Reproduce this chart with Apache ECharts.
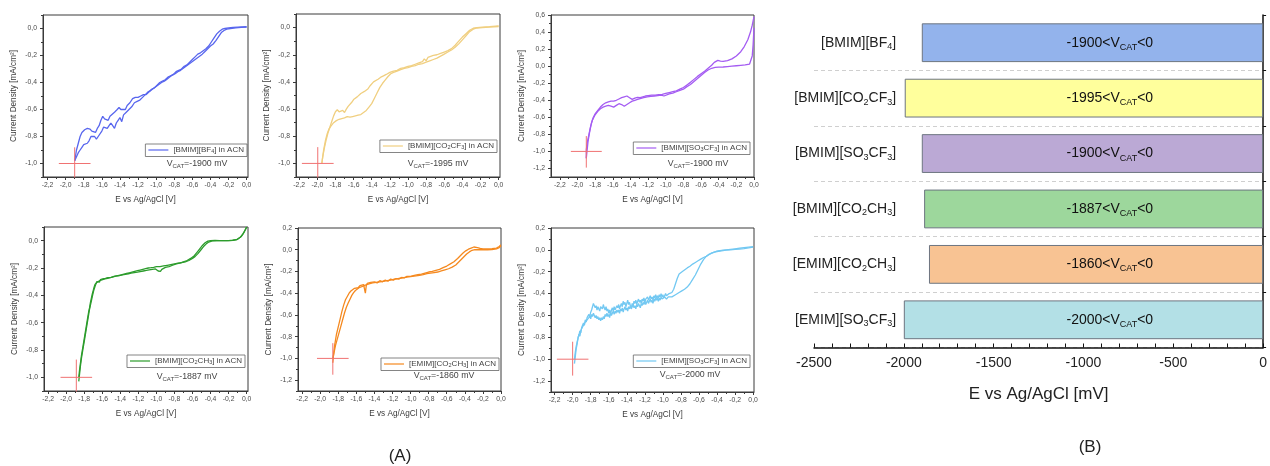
<!DOCTYPE html>
<html><head><meta charset="utf-8">
<script src="https://cdn.jsdelivr.net/npm/echarts@6/dist/echarts.min.js"></script>
<style>html,body{margin:0;padding:0;background:#fff}#c{width:1270px;height:466px}</style>
</head><body><div id="c"></div>
<script>
// ---------- DATA ----------
const panelNames = ['[BMIM][BF4] in ACN','[BMIM][CO2CF3] in ACN','[BMIM][SO3CF3] in ACN','[BMIM][CO2CH3] in ACN','[EMIM][CO2CH3] in ACN','[EMIM][SO3CF3] in ACN'];
const vcat = [-1900,-1995,-1900,-1887,-1860,-2000];
const barCategories = ['[BMIM][BF4]','[BMIM][CO2CF3]','[BMIM][SO3CF3]','[BMIM][CO2CH3]','[EMIM][CO2CH3]','[EMIM][SO3CF3]'];
const xTickLabels = [-2.2,-2.0,-1.8,-1.6,-1.4,-1.2,-1.0,-0.8,-0.6,-0.4,-0.2,0.0];

const bf4A = [[-1.90,-0.98],[-1.88,-0.90],[-1.86,-0.85],[-1.84,-0.80],[-1.82,-0.77],[-1.79,-0.75],[-1.76,-0.74],[-1.73,-0.745],[-1.71,-0.76],[-1.69,-0.75],[-1.67,-0.77],[-1.65,-0.74],[-1.63,-0.72],[-1.61,-0.68],[-1.59,-0.65],[-1.57,-0.67],[-1.55,-0.66],[-1.53,-0.68],[-1.51,-0.65],[-1.49,-0.64],[-1.46,-0.62],[-1.43,-0.60],[-1.41,-0.585],[-1.39,-0.60],[-1.37,-0.59],[-1.34,-0.60],[-1.32,-0.57],[-1.29,-0.55],[-1.26,-0.52],[-1.23,-0.51],[-1.20,-0.51],[-1.17,-0.50],[-1.14,-0.49],[-1.11,-0.49],[-1.08,-0.47],[-1.05,-0.45],[-1.02,-0.44],[-0.99,-0.42],[-0.96,-0.40],[-0.93,-0.39],[-0.90,-0.38],[-0.87,-0.36],[-0.84,-0.35],[-0.81,-0.34],[-0.78,-0.32],[-0.75,-0.31],[-0.72,-0.30],[-0.69,-0.28],[-0.66,-0.27],[-0.63,-0.25],[-0.60,-0.23],[-0.57,-0.21],[-0.54,-0.19],[-0.51,-0.18],[-0.48,-0.165],[-0.45,-0.15],[-0.42,-0.13],[-0.39,-0.10],[-0.36,-0.07],[-0.33,-0.04],[-0.30,-0.02],[-0.27,-0.005],[-0.24,0.0],[-0.20,0.005],[-0.15,0.008],[-0.10,0.01],[-0.05,0.012],[0.0,0.013]];
const bf4B = [[-1.90,-0.98],[-1.88,-0.95],[-1.86,-0.92],[-1.84,-0.90],[-1.82,-0.88],[-1.80,-0.86],[-1.78,-0.87],[-1.76,-0.85],[-1.74,-0.83],[-1.72,-0.80],[-1.70,-0.79],[-1.68,-0.80],[-1.66,-0.82],[-1.64,-0.80],[-1.62,-0.79],[-1.60,-0.76],[-1.58,-0.73],[-1.56,-0.72],[-1.54,-0.74],[-1.52,-0.72],[-1.50,-0.70],[-1.48,-0.72],[-1.46,-0.74],[-1.44,-0.70],[-1.42,-0.68],[-1.40,-0.66],[-1.38,-0.69],[-1.36,-0.64],[-1.33,-0.62],[-1.30,-0.60],[-1.27,-0.58],[-1.24,-0.55],[-1.21,-0.54],[-1.18,-0.53],[-1.15,-0.51],[-1.12,-0.49],[-1.09,-0.47],[-1.06,-0.46],[-1.03,-0.445],[-1.00,-0.43],[-0.97,-0.415],[-0.94,-0.40],[-0.91,-0.39],[-0.88,-0.375],[-0.85,-0.36],[-0.82,-0.345],[-0.79,-0.335],[-0.76,-0.32],[-0.73,-0.31],[-0.70,-0.295],[-0.67,-0.28],[-0.64,-0.265],[-0.61,-0.25],[-0.58,-0.235],[-0.55,-0.22],[-0.52,-0.205],[-0.49,-0.19],[-0.46,-0.17],[-0.43,-0.15],[-0.40,-0.13],[-0.37,-0.115],[-0.34,-0.09],[-0.31,-0.06],[-0.28,-0.03],[-0.25,-0.015],[-0.22,-0.005],[-0.18,0.0],[-0.12,0.005],[-0.06,0.008],[0.0,0.01]];

const cf3A = [[-1.95,-1.0],[-1.94,-0.95],[-1.92,-0.88],[-1.90,-0.82],[-1.88,-0.77],[-1.86,-0.73],[-1.84,-0.69],[-1.82,-0.65],[-1.80,-0.62],[-1.78,-0.605],[-1.76,-0.62],[-1.74,-0.63],[-1.72,-0.61],[-1.70,-0.625],[-1.68,-0.60],[-1.66,-0.58],[-1.64,-0.57],[-1.62,-0.55],[-1.60,-0.53],[-1.58,-0.52],[-1.56,-0.51],[-1.54,-0.50],[-1.52,-0.485],[-1.50,-0.48],[-1.48,-0.47],[-1.46,-0.465],[-1.44,-0.45],[-1.42,-0.43],[-1.40,-0.42],[-1.38,-0.40],[-1.36,-0.39],[-1.33,-0.38],[-1.30,-0.365],[-1.27,-0.355],[-1.24,-0.345],[-1.20,-0.33],[-1.16,-0.32],[-1.12,-0.315],[-1.08,-0.30],[-1.04,-0.295],[-1.00,-0.285],[-0.96,-0.28],[-0.92,-0.27],[-0.88,-0.26],[-0.84,-0.25],[-0.82,-0.23],[-0.80,-0.245],[-0.78,-0.22],[-0.76,-0.22],[-0.72,-0.205],[-0.68,-0.20],[-0.64,-0.19],[-0.60,-0.18],[-0.56,-0.17],[-0.52,-0.155],[-0.48,-0.13],[-0.44,-0.10],[-0.40,-0.07],[-0.36,-0.045],[-0.32,-0.02],[-0.28,-0.005],[-0.24,0.0],[-0.18,0.004],[-0.10,0.007],[0.0,0.012]];
const cf3B = [[-1.95,-1.0],[-1.93,-0.90],[-1.91,-0.83],[-1.89,-0.78],[-1.87,-0.745],[-1.85,-0.725],[-1.82,-0.70],[-1.79,-0.685],[-1.76,-0.675],[-1.73,-0.67],[-1.70,-0.665],[-1.67,-0.655],[-1.64,-0.66],[-1.61,-0.655],[-1.58,-0.65],[-1.55,-0.645],[-1.52,-0.64],[-1.49,-0.625],[-1.46,-0.61],[-1.43,-0.585],[-1.40,-0.56],[-1.37,-0.52],[-1.34,-0.48],[-1.31,-0.44],[-1.28,-0.41],[-1.25,-0.385],[-1.22,-0.36],[-1.19,-0.34],[-1.16,-0.33],[-1.12,-0.32],[-1.08,-0.31],[-1.04,-0.30],[-1.00,-0.295],[-0.96,-0.285],[-0.92,-0.28],[-0.88,-0.27],[-0.84,-0.265],[-0.80,-0.255],[-0.76,-0.245],[-0.72,-0.235],[-0.68,-0.225],[-0.64,-0.21],[-0.60,-0.195],[-0.56,-0.18],[-0.52,-0.165],[-0.48,-0.145],[-0.44,-0.12],[-0.40,-0.09],[-0.36,-0.06],[-0.32,-0.03],[-0.28,-0.012],[-0.24,-0.003],[-0.18,0.0],[-0.10,0.004],[0.0,0.008]];

const so3A = [[-1.90,-1.08],[-1.89,-0.98],[-1.88,-0.88],[-1.86,-0.76],[-1.84,-0.66],[-1.82,-0.60],[-1.80,-0.56],[-1.77,-0.52],[-1.74,-0.48],[-1.71,-0.45],[-1.68,-0.43],[-1.65,-0.42],[-1.62,-0.41],[-1.59,-0.41],[-1.56,-0.40],[-1.53,-0.385],[-1.50,-0.37],[-1.47,-0.36],[-1.44,-0.35],[-1.41,-0.37],[-1.38,-0.39],[-1.35,-0.375],[-1.32,-0.365],[-1.29,-0.37],[-1.26,-0.36],[-1.23,-0.35],[-1.20,-0.345],[-1.16,-0.34],[-1.12,-0.34],[-1.08,-0.335],[-1.04,-0.33],[-1.00,-0.32],[-0.96,-0.31],[-0.92,-0.30],[-0.88,-0.29],[-0.84,-0.27],[-0.80,-0.25],[-0.76,-0.22],[-0.72,-0.19],[-0.68,-0.155],[-0.64,-0.12],[-0.60,-0.09],[-0.56,-0.06],[-0.52,-0.025],[-0.48,0.01],[-0.45,0.045],[-0.43,0.065],[-0.41,0.068],[-0.38,0.06],[-0.35,0.055],[-0.30,0.065],[-0.25,0.085],[-0.20,0.12],[-0.15,0.17],[-0.11,0.23],[-0.07,0.31],[-0.04,0.40],[-0.02,0.48],[0.0,0.58]];
const so3B = [[-1.90,-1.08],[-1.90,-0.98],[-1.89,-0.90],[-1.87,-0.80],[-1.85,-0.70],[-1.83,-0.63],[-1.80,-0.57],[-1.77,-0.53],[-1.74,-0.50],[-1.71,-0.48],[-1.68,-0.47],[-1.65,-0.46],[-1.62,-0.47],[-1.59,-0.48],[-1.56,-0.46],[-1.53,-0.44],[-1.50,-0.45],[-1.47,-0.47],[-1.44,-0.45],[-1.41,-0.43],[-1.38,-0.41],[-1.35,-0.40],[-1.32,-0.39],[-1.29,-0.38],[-1.25,-0.37],[-1.21,-0.36],[-1.17,-0.355],[-1.13,-0.35],[-1.09,-0.345],[-1.05,-0.34],[-1.02,-0.35],[-1.00,-0.33],[-0.96,-0.325],[-0.92,-0.315],[-0.88,-0.30],[-0.84,-0.285],[-0.80,-0.27],[-0.76,-0.24],[-0.72,-0.215],[-0.68,-0.18],[-0.64,-0.145],[-0.60,-0.11],[-0.56,-0.075],[-0.52,-0.045],[-0.48,-0.025],[-0.44,-0.015],[-0.40,-0.012],[-0.35,-0.01],[-0.30,-0.005],[-0.25,0.0],[-0.20,0.005],[-0.15,0.01],[-0.10,0.015],[-0.05,0.025],[-0.03,0.04],[-0.02,0.12],[-0.01,0.25],[0.0,0.45]];

const ac4A = [[-1.86,-1.03],[-1.85,-0.97],[-1.84,-0.91],[-1.83,-0.86],[-1.82,-0.82],[-1.81,-0.78],[-1.80,-0.74],[-1.79,-0.70],[-1.78,-0.66],[-1.77,-0.62],[-1.76,-0.58],[-1.75,-0.54],[-1.74,-0.50],[-1.73,-0.47],[-1.72,-0.44],[-1.71,-0.41],[-1.70,-0.38],[-1.69,-0.355],[-1.68,-0.335],[-1.67,-0.318],[-1.66,-0.30],[-1.65,-0.307],[-1.64,-0.292],[-1.63,-0.303],[-1.62,-0.285],[-1.61,-0.298],[-1.595,-0.28],[-1.58,-0.292],[-1.565,-0.276],[-1.55,-0.285],[-1.535,-0.27],[-1.52,-0.282],[-1.50,-0.268],[-1.49,-0.278],[-1.47,-0.262],[-1.455,-0.272],[-1.44,-0.258],[-1.42,-0.27],[-1.41,-0.255],[-1.39,-0.262],[-1.375,-0.25],[-1.36,-0.26],[-1.345,-0.247],[-1.33,-0.255],[-1.31,-0.242],[-1.295,-0.252],[-1.28,-0.238],[-1.26,-0.246],[-1.245,-0.234],[-1.23,-0.244],[-1.21,-0.23],[-1.195,-0.238],[-1.18,-0.226],[-1.16,-0.235],[-1.145,-0.222],[-1.13,-0.23],[-1.11,-0.218],[-1.095,-0.226],[-1.08,-0.214],[-1.06,-0.222],[-1.045,-0.21],[-1.03,-0.218],[-1.01,-0.207],[-0.995,-0.215],[-0.98,-0.222],[-0.965,-0.232],[-0.955,-0.225],[-0.94,-0.21],[-0.92,-0.20],[-0.90,-0.195],[-0.86,-0.19],[-0.82,-0.18],[-0.78,-0.17],[-0.74,-0.165],[-0.70,-0.155],[-0.66,-0.145],[-0.62,-0.13],[-0.58,-0.11],[-0.55,-0.085],[-0.52,-0.06],[-0.49,-0.035],[-0.46,-0.015],[-0.43,-0.003],[-0.40,0.0],[-0.35,0.002],[-0.30,0.001],[-0.25,0.0],[-0.20,0.0],[-0.15,0.003],[-0.10,0.01],[-0.06,0.03],[-0.03,0.06],[0.0,0.10]];
const ac4B = [[-1.86,-1.0],[-1.85,-0.94],[-1.84,-0.89],[-1.83,-0.84],[-1.82,-0.80],[-1.81,-0.76],[-1.80,-0.72],[-1.79,-0.68],[-1.78,-0.64],[-1.77,-0.60],[-1.76,-0.56],[-1.75,-0.52],[-1.74,-0.49],[-1.73,-0.45],[-1.72,-0.42],[-1.71,-0.39],[-1.70,-0.365],[-1.69,-0.34],[-1.68,-0.32],[-1.66,-0.305],[-1.64,-0.30],[-1.62,-0.29],[-1.60,-0.29],[-1.57,-0.28],[-1.54,-0.275],[-1.51,-0.27],[-1.48,-0.265],[-1.45,-0.26],[-1.42,-0.255],[-1.39,-0.25],[-1.36,-0.245],[-1.33,-0.24],[-1.30,-0.235],[-1.27,-0.23],[-1.24,-0.225],[-1.21,-0.22],[-1.18,-0.215],[-1.15,-0.21],[-1.12,-0.205],[-1.09,-0.20],[-1.06,-0.198],[-1.03,-0.195],[-1.00,-0.19],[-0.96,-0.19],[-0.92,-0.185],[-0.88,-0.18],[-0.84,-0.175],[-0.80,-0.17],[-0.76,-0.165],[-0.72,-0.16],[-0.68,-0.155],[-0.64,-0.145],[-0.60,-0.13],[-0.57,-0.115],[-0.54,-0.095],[-0.51,-0.07],[-0.48,-0.045],[-0.45,-0.025],[-0.42,-0.01],[-0.38,-0.002],[-0.33,0.0],[-0.28,0.0],[-0.22,0.0],[-0.16,0.002],[-0.11,0.008],[-0.07,0.025],[-0.04,0.05],[-0.01,0.085],[0.0,0.10]];

const eacA = [[-1.86,-1.04],[-1.85,-0.95],[-1.84,-0.88],[-1.83,-0.83],[-1.82,-0.78],[-1.80,-0.71],[-1.78,-0.64],[-1.76,-0.57],[-1.74,-0.51],[-1.72,-0.46],[-1.70,-0.43],[-1.68,-0.40],[-1.66,-0.38],[-1.64,-0.37],[-1.62,-0.355],[-1.60,-0.34],[-1.58,-0.35],[-1.56,-0.33],[-1.54,-0.34],[-1.52,-0.32],[-1.50,-0.40],[-1.49,-0.33],[-1.48,-0.31],[-1.46,-0.32],[-1.44,-0.30],[-1.42,-0.31],[-1.40,-0.295],[-1.37,-0.305],[-1.34,-0.285],[-1.31,-0.295],[-1.28,-0.28],[-1.25,-0.29],[-1.22,-0.27],[-1.19,-0.28],[-1.16,-0.265],[-1.13,-0.27],[-1.10,-0.255],[-1.07,-0.26],[-1.04,-0.245],[-1.00,-0.245],[-0.96,-0.235],[-0.92,-0.23],[-0.88,-0.225],[-0.84,-0.215],[-0.80,-0.205],[-0.76,-0.20],[-0.72,-0.19],[-0.68,-0.18],[-0.64,-0.165],[-0.60,-0.15],[-0.56,-0.13],[-0.52,-0.11],[-0.48,-0.08],[-0.45,-0.055],[-0.42,-0.03],[-0.39,-0.01],[-0.36,0.005],[-0.33,0.015],[-0.30,0.025],[-0.28,0.028],[-0.26,0.02],[-0.23,0.012],[-0.20,0.008],[-0.15,0.008],[-0.10,0.01],[-0.05,0.015],[-0.02,0.03],[0.0,0.045]];
const eacB = [[-1.86,-1.0],[-1.85,-0.96],[-1.83,-0.88],[-1.81,-0.82],[-1.79,-0.76],[-1.77,-0.70],[-1.75,-0.64],[-1.73,-0.58],[-1.71,-0.53],[-1.69,-0.49],[-1.67,-0.455],[-1.65,-0.42],[-1.63,-0.395],[-1.61,-0.375],[-1.59,-0.36],[-1.57,-0.35],[-1.54,-0.34],[-1.50,-0.325],[-1.46,-0.315],[-1.42,-0.305],[-1.38,-0.30],[-1.34,-0.295],[-1.30,-0.29],[-1.26,-0.285],[-1.22,-0.28],[-1.18,-0.27],[-1.14,-0.265],[-1.10,-0.26],[-1.06,-0.255],[-1.02,-0.25],[-0.98,-0.245],[-0.94,-0.24],[-0.90,-0.235],[-0.86,-0.23],[-0.82,-0.22],[-0.78,-0.215],[-0.74,-0.21],[-0.70,-0.205],[-0.66,-0.195],[-0.62,-0.185],[-0.58,-0.175],[-0.54,-0.16],[-0.50,-0.14],[-0.47,-0.115],[-0.44,-0.09],[-0.41,-0.065],[-0.38,-0.04],[-0.35,-0.02],[-0.32,-0.005],[-0.29,0.0],[-0.25,0.0],[-0.20,0.0],[-0.15,0.0],[-0.10,0.002],[-0.05,0.007],[-0.02,0.02],[0.0,0.035]];

const eso3A = [[-1.98,-1.04],[-1.97,-0.97],[-1.96,-0.90],[-1.95,-0.86],[-1.94,-0.80],[-1.93,-0.78],[-1.92,-0.74],[-1.91,-0.76],[-1.90,-0.71],[-1.89,-0.70],[-1.88,-0.67],[-1.87,-0.69],[-1.86,-0.64],[-1.85,-0.66],[-1.84,-0.62],[-1.83,-0.63],[-1.82,-0.59],[-1.81,-0.61],[-1.80,-0.57],[-1.79,-0.55],[-1.78,-0.52],[-1.77,-0.49],[-1.76,-0.50],[-1.75,-0.53],[-1.74,-0.51],[-1.73,-0.55],[-1.72,-0.52],[-1.71,-0.54],[-1.70,-0.56],[-1.69,-0.52],[-1.68,-0.51],[-1.67,-0.54],[-1.66,-0.50],[-1.65,-0.53],[-1.64,-0.55],[-1.63,-0.52],[-1.62,-0.56],[-1.61,-0.54],[-1.60,-0.58],[-1.59,-0.55],[-1.58,-0.59],[-1.57,-0.55],[-1.56,-0.53],[-1.55,-0.56],[-1.54,-0.52],[-1.53,-0.55],[-1.52,-0.54],[-1.51,-0.51],[-1.50,-0.53],[-1.49,-0.50],[-1.48,-0.54],[-1.47,-0.51],[-1.46,-0.49],[-1.45,-0.52],[-1.44,-0.47],[-1.43,-0.50],[-1.42,-0.48],[-1.41,-0.52],[-1.40,-0.49],[-1.39,-0.46],[-1.38,-0.50],[-1.37,-0.48],[-1.36,-0.51],[-1.35,-0.53],[-1.34,-0.49],[-1.33,-0.51],[-1.32,-0.47],[-1.31,-0.49],[-1.30,-0.46],[-1.29,-0.50],[-1.28,-0.47],[-1.27,-0.45],[-1.26,-0.48],[-1.25,-0.46],[-1.24,-0.49],[-1.23,-0.45],[-1.22,-0.47],[-1.21,-0.44],[-1.20,-0.48],[-1.19,-0.45],[-1.18,-0.46],[-1.17,-0.43],[-1.16,-0.46],[-1.15,-0.44],[-1.14,-0.42],[-1.13,-0.45],[-1.12,-0.43],[-1.11,-0.46],[-1.10,-0.42],[-1.09,-0.44],[-1.08,-0.41],[-1.07,-0.44],[-1.06,-0.42],[-1.05,-0.44],[-1.04,-0.41],[-1.03,-0.43],[-1.02,-0.40],[-1.01,-0.43],[-1.00,-0.41],[-0.99,-0.44],[-0.98,-0.42],[-0.97,-0.40],[-0.96,-0.42],[-0.95,-0.41],[-0.94,-0.43],[-0.93,-0.40],[-0.92,-0.41],[-0.91,-0.39],[-0.90,-0.39],[-0.88,-0.36],[-0.86,-0.31],[-0.84,-0.26],[-0.82,-0.22],[-0.80,-0.205],[-0.78,-0.195],[-0.76,-0.18],[-0.73,-0.165],[-0.70,-0.15],[-0.67,-0.13],[-0.64,-0.115],[-0.61,-0.10],[-0.58,-0.085],[-0.55,-0.07],[-0.52,-0.06],[-0.49,-0.045],[-0.46,-0.03],[-0.43,-0.02],[-0.40,-0.012],[-0.35,-0.005],[-0.30,0.0],[-0.25,0.005],[-0.20,0.01],[-0.15,0.015],[-0.10,0.02],[-0.05,0.025],[0.0,0.03]];
const eso3B = [[-1.98,-1.0],[-1.97,-0.93],[-1.96,-0.88],[-1.95,-0.84],[-1.94,-0.81],[-1.93,-0.77],[-1.92,-0.79],[-1.91,-0.74],[-1.90,-0.72],[-1.89,-0.73],[-1.88,-0.69],[-1.87,-0.68],[-1.86,-0.66],[-1.85,-0.67],[-1.84,-0.64],[-1.83,-0.65],[-1.82,-0.62],[-1.81,-0.60],[-1.80,-0.63],[-1.79,-0.59],[-1.78,-0.61],[-1.77,-0.58],[-1.76,-0.60],[-1.75,-0.62],[-1.74,-0.60],[-1.73,-0.63],[-1.72,-0.61],[-1.71,-0.64],[-1.70,-0.62],[-1.69,-0.65],[-1.68,-0.62],[-1.67,-0.64],[-1.66,-0.61],[-1.65,-0.63],[-1.64,-0.59],[-1.63,-0.61],[-1.62,-0.58],[-1.61,-0.61],[-1.60,-0.59],[-1.59,-0.62],[-1.58,-0.57],[-1.57,-0.60],[-1.56,-0.58],[-1.55,-0.56],[-1.54,-0.59],[-1.53,-0.56],[-1.52,-0.58],[-1.51,-0.55],[-1.50,-0.57],[-1.49,-0.55],[-1.48,-0.58],[-1.47,-0.54],[-1.46,-0.56],[-1.45,-0.53],[-1.44,-0.57],[-1.43,-0.54],[-1.42,-0.52],[-1.41,-0.55],[-1.40,-0.53],[-1.39,-0.56],[-1.38,-0.52],[-1.37,-0.54],[-1.36,-0.51],[-1.35,-0.54],[-1.34,-0.52],[-1.33,-0.50],[-1.32,-0.53],[-1.31,-0.51],[-1.30,-0.54],[-1.29,-0.50],[-1.28,-0.52],[-1.27,-0.49],[-1.26,-0.51],[-1.25,-0.53],[-1.24,-0.49],[-1.23,-0.51],[-1.22,-0.48],[-1.21,-0.50],[-1.20,-0.47],[-1.19,-0.50],[-1.18,-0.48],[-1.17,-0.46],[-1.16,-0.49],[-1.15,-0.47],[-1.14,-0.45],[-1.13,-0.48],[-1.12,-0.46],[-1.11,-0.49],[-1.10,-0.45],[-1.09,-0.47],[-1.08,-0.44],[-1.07,-0.46],[-1.06,-0.44],[-1.05,-0.47],[-1.04,-0.44],[-1.03,-0.46],[-1.02,-0.43],[-1.01,-0.45],[-1.00,-0.44],[-0.98,-0.43],[-0.96,-0.45],[-0.94,-0.43],[-0.92,-0.42],[-0.90,-0.43],[-0.88,-0.42],[-0.86,-0.41],[-0.82,-0.39],[-0.79,-0.375],[-0.76,-0.36],[-0.73,-0.34],[-0.70,-0.31],[-0.67,-0.27],[-0.64,-0.23],[-0.61,-0.18],[-0.58,-0.13],[-0.55,-0.09],[-0.52,-0.06],[-0.49,-0.04],[-0.46,-0.03],[-0.43,-0.02],[-0.40,-0.015],[-0.35,-0.008],[-0.30,-0.003],[-0.25,0.0],[-0.20,0.004],[-0.15,0.008],[-0.10,0.012],[-0.05,0.018],[0.0,0.025]];

// ---------- LAYOUT / STYLE ----------
const FONT = '"Liberation Sans", Arial, sans-serif';
const curveColors = ['#5866ee','#f0cf80','#a45cf2','#2c9c2c','#f5891f','#72c8f2'];
const barColors = ['#93b3ec','#ffff9c','#bba9d5','#9dd79c','#f8c393','#b3e0e6'];
const panels = [
  {grid:{left:43,top:15,width:205,height:162}, x:[-2.25,0.015], y:[-1.1,0.1], yTicks:[-1.0,0.0], branches:[bf4A,bf4B], leg:{right:247,top:144}, vt:[197,164], cy:[-0.88,-1.15]},
  {grid:{left:296,top:14,width:204,height:163}, x:[-2.235,0.015], y:[-1.1,0.1], yTicks:[-1.0,0.0], branches:[cf3A,cf3B], leg:{right:497,top:140}, vt:[438,164], cy:[-0.88,-1.15]},
  {grid:{left:551,top:15,width:203,height:162}, x:[-2.3,0.0], y:[-1.3,0.6], yTicks:[-1.2,0.6], branches:[so3A,so3B], leg:{right:750,top:142}, vt:[698,164], cy:[-0.82,-1.19]},
  {grid:{left:44,top:227,width:204,height:164}, x:[-2.245,0.015], y:[-1.1,0.1], yTicks:[-1.0,0.0], branches:[ac4A,ac4B], leg:{right:245,top:355}, vt:[187,377], cy:[-0.87,-1.15]},
  {grid:{left:298,top:228,width:203,height:163}, x:[-2.245,0.0], y:[-1.3,0.2], yTicks:[-1.2,0.2], branches:[eacA,eacB], leg:{right:499,top:358}, vt:[444,376], cy:[-0.86,-1.15]},
  {grid:{left:551,top:228,width:203,height:164}, x:[-2.24,0.01], y:[-1.3,0.2], yTicks:[-1.2,0.2], branches:[eso3A,eso3B], leg:{right:750,top:355}, vt:[690,375], cy:[-0.84,-1.15]}
];

function r1(v){return Math.round(v*10)/10;}
function seq(a,b,step){const out=[];for(let v=a;v<=b+1e-9;v+=step)out.push(r1(v));return out;}
function fmt(v){let s=(Math.abs(v)<1e-9?0:v).toFixed(1);return s.replace('.',',');}
function subDigits(s){return s.replace(/(\d)/g,'{s|$1}');}

const grids=[], xAxes=[], yAxes=[], series=[], legends=[], graphics=[];
const xMajor = xTickLabels.map(r1);
const xMinor = seq(-2.1,-0.1,0.2);

panels.forEach((p,i)=>{
  grids.push(Object.assign({show:true,borderColor:'#3a3a3a',borderWidth:1,containLabel:false},p.grid));
  const yMajor = seq(p.yTicks[0],p.yTicks[1],0.2);
  const yMinor = seq(p.yTicks[0]+0.1,p.yTicks[1]-0.1,0.2);
  if (p.y[0] < p.yTicks[0]-0.09) yMinor.unshift(r1(p.yTicks[0]-0.1));
  if (p.y[1] > p.yTicks[1]+0.09) yMinor.push(r1(p.yTicks[1]+0.1));
  xAxes.push({type:'value',gridIndex:i,min:p.x[0],max:p.x[1],position:'bottom',
    axisLine:{show:true,onZero:false,lineStyle:{color:'#3a3a3a',width:1}},
    axisTick:{show:true,inside:false,length:3,customValues:xMajor,lineStyle:{color:'#3a3a3a'}},
    axisLabel:{show:true,customValues:xMajor,formatter:fmt,fontSize:6.8,color:'#4a4a4a',margin:5,fontFamily:FONT},
    splitLine:{show:false},
    name:'E vs Ag/AgCl [V]',nameLocation:'middle',nameGap:19,nameTextStyle:{fontSize:8.2,color:'#3a3a3a',fontFamily:FONT}});
  xAxes.push({type:'value',gridIndex:i,min:p.x[0],max:p.x[1],position:'bottom',
    axisLine:{show:false,onZero:false},
    axisTick:{show:true,inside:false,length:2,customValues:xMinor,lineStyle:{color:'#3a3a3a'}},
    axisLabel:{show:false},splitLine:{show:false}});
  yAxes.push({type:'value',gridIndex:i,min:p.y[0],max:p.y[1],position:'left',
    axisLine:{show:true,onZero:false,lineStyle:{color:'#3a3a3a',width:1}},
    axisTick:{show:true,inside:false,length:3,customValues:yMajor,lineStyle:{color:'#3a3a3a'}},
    axisLabel:{show:true,customValues:yMajor,formatter:fmt,fontSize:6.8,color:'#4a4a4a',margin:6,fontFamily:FONT},
    splitLine:{show:false},
    name:'Current Density [mA/cm²]',nameLocation:'middle',nameGap:25,nameTextStyle:{fontSize:8.2,color:'#3a3a3a',fontFamily:FONT}});
  yAxes.push({type:'value',gridIndex:i,min:p.y[0],max:p.y[1],position:'left',
    axisLine:{show:false,onZero:false},
    axisTick:{show:true,inside:false,length:2,customValues:yMinor,lineStyle:{color:'#3a3a3a'}},
    axisLabel:{show:false},splitLine:{show:false}});
  const xi=2*i;
  p.branches.forEach(b=>{
    series.push({type:'line',name:panelNames[i],xAxisIndex:xi,yAxisIndex:xi,data:b,symbol:'none',
      lineStyle:{color:curveColors[i],width:1.3},itemStyle:{color:curveColors[i]},animation:false,silent:true});
  });
  const cx = vcat[i]/1000;
  series.push({type:'line',name:'cross'+i+'h',xAxisIndex:xi,yAxisIndex:xi,data:[[cx-0.175,-1.0],[cx+0.175,-1.0]],symbol:'none',
    lineStyle:{color:'#f07272',width:1},animation:false,silent:true});
  series.push({type:'line',name:'cross'+i+'v',xAxisIndex:xi,yAxisIndex:xi,data:[[cx,p.cy[0]],[cx,p.cy[1]]],symbol:'none',
    lineStyle:{color:'#f07272',width:1},animation:false,silent:true});
  legends.push({data:[panelNames[i]],right:1270-p.leg.right,top:p.leg.top,orient:'horizontal',
    backgroundColor:'#fff',borderColor:'#666',borderWidth:0.8,padding:[2,3,2,3],icon:'rect',itemWidth:20,itemHeight:1.2,itemGap:4,
    selectedMode:false,formatter:n=>subDigits(n),
    textStyle:{fontSize:8,color:'#444',fontFamily:FONT,rich:{s:{fontSize:5.5,padding:[3,0,0,0],fontFamily:FONT,color:'#444'}}}});
  graphics.push({type:'text',x:p.vt[0],y:p.vt[1],silent:true,
    style:{text:'V{s|CAT}='+vcat[i]+' mV',fill:'#444',font:'8.8px '+FONT,align:'center',verticalAlign:'middle',
      rich:{s:{fontSize:6,padding:[4,0,0,0],fontFamily:FONT,fill:'#444'}}}});
});

// Bar chart (B)
grids.push({left:814,top:15,width:452,height:332.5,show:false});
const bi = 6;
xAxes.push({type:'value',gridIndex:bi,min:-2500,max:0,interval:500,position:'bottom',
  axisLine:{show:true,onZero:false,lineStyle:{color:'#111',width:1.5}},
  axisTick:{show:true,inside:true,length:4,lineStyle:{color:'#111',width:1}},
  minorTick:{show:true,splitNumber:5,length:4,lineStyle:{color:'#111',width:1}},
  axisLabel:{fontSize:14,color:'#222',margin:9,fontFamily:FONT,formatter:v=>String(v)},
  splitLine:{show:false},minorSplitLine:{show:false},
  name:'E vs Ag/AgCl [mV]',nameLocation:'middle',nameGap:38,nameTextStyle:{fontSize:17,color:'#222',fontFamily:FONT}});
yAxes.push({type:'category',gridIndex:bi,data:barCategories,inverse:true,position:'right',
  axisLine:{show:true,lineStyle:{color:'#111',width:1.5}},
  axisTick:{show:true,length:3,lineStyle:{color:'#111'}},
  axisLabel:{inside:true,margin:367,formatter:v=>subDigits(v),fontSize:14,color:'#222',fontFamily:FONT,
    rich:{s:{fontSize:9,padding:[8,0,0,0],color:'#222',fontFamily:FONT}}},
  splitLine:{show:true,interval:(idx)=>idx>0,lineStyle:{color:'#cfcfcf',type:[4,3],width:1}}});
series.push({type:'bar',name:'range',xAxisIndex:12,yAxisIndex:12,barWidth:'70%',animation:false,silent:true,
  data:vcat.map((v,i)=>({value:v,itemStyle:{color:barColors[i]}})),
  itemStyle:{borderColor:'#6d7580',borderWidth:1},
  label:{show:true,position:'insideRight',distance:110,formatter:p=>p.value+'<V{s|CAT}<0',fontSize:14,color:'#111',fontFamily:FONT,
    rich:{s:{fontSize:9,padding:[9,0,0,0],color:'#111',fontFamily:FONT}}}});

graphics.push({type:'text',x:400,y:456,silent:true,style:{text:'(A)',font:'17px '+FONT,fill:'#222',align:'center',verticalAlign:'middle'}});
graphics.push({type:'text',x:1090,y:447,silent:true,style:{text:'(B)',font:'17px '+FONT,fill:'#222',align:'center',verticalAlign:'middle'}});

const chart = echarts.init(document.getElementById('c'),null,{renderer:'canvas'});
chart.setOption({
  animation:false,
  backgroundColor:'#fff',
  textStyle:{fontFamily:FONT},
  grid:grids, xAxis:xAxes, yAxis:yAxes, series:series, legend:legends, graphic:graphics
});
</script></body></html>
